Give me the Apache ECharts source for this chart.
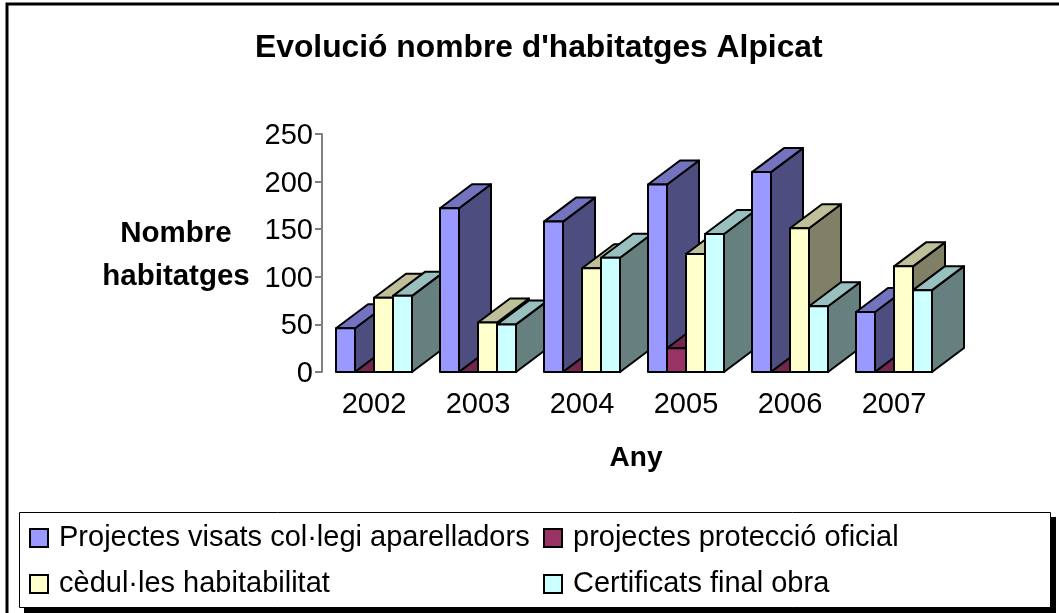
<!DOCTYPE html>
<html><head><meta charset="utf-8">
<style>html,body{margin:0;padding:0;background:#fff}#c{width:1059px;height:613px}</style>
<script src="https://cdn.jsdelivr.net/npm/echarts@6/dist/echarts.min.js"></script>
</head><body><div id="c"></div>
<script>
const years = ['2002','2003','2004','2005','2006','2007'];
const seriesNames = ['Projectes visats col·legi aparelladors','projectes protecció oficial','cèdul·les habitabilitat','Certificats final obra'];
const visats = [46,172,158,197,210,63];
const proteccio = [0,0,0,25,0,0];
const cedules = [78,52,109,124,151,111];
const certificats = [80,50,120,145,69,86];
const frontColors = ['#9999FF','#993366','#FFFFCC','#CCFFFF'];
const topColors = ['#7373BF','#73264D','#BFBF99','#99BFBF'];
const sideColors = ['#4D4D80','#4D1933','#808066','#668080'];
const seriesValues = [visats,proteccio,cedules,certificats];
const FONT = '"Liberation Sans", Arial, sans-serif';
const depthX = 32, depthY = -24, barShare = 19/104;

function makeRender(si){
  return function(params, api){
    const cat = api.value(0), val = api.value(1);
    const base = api.coord([cat,0]), top = api.coord([cat,val]);
    const w = api.size([1,0])[0]*barShare;
    const x0 = base[0] + (si-2)*w, x1 = x0+w, yb = base[1], yt = top[1];
    const z2 = cat*4+si;
    const st = c => ({fill:c, stroke:'#000', lineWidth:2, lineJoin:'round'});
    const poly = (pts,c) => ({type:'polygon', z2, shape:{points:pts}, style:st(c)});
    return {type:'group', children:[
      poly([[x1,yb],[x1+depthX,yb+depthY],[x1+depthX,yt+depthY],[x1,yt]], sideColors[si]),
      poly([[x0,yt],[x1,yt],[x1+depthX,yt+depthY],[x0+depthX,yt+depthY]], topColors[si]),
      poly([[x0,yb],[x1,yb],[x1,yt],[x0,yt]], frontColors[si])
    ]};
  };
}
const legendBase = {orient:'vertical', itemWidth:18, itemHeight:18, itemGap:14,
  icon:'rect', padding:0, selectedMode:false,
  itemStyle:{borderColor:'#000', borderWidth:2},
  textStyle:{fontFamily:FONT, fontSize:29, color:'#000', padding:[0,0,0,6], lineHeight:32}};
const chart = echarts.init(document.getElementById('c'));
chart.setOption({
  animation:false,
  backgroundColor:'#fff',
  title:{text:"Evolució nombre d'habitatges Alpicat", left:255, top:32, padding:0,
    textStyle:{fontFamily:FONT, fontSize:31.8, fontWeight:'bold', color:'#000'}},
  graphic:[
    {type:'rect', z:-3, shape:{x:7,y:4,width:1200,height:800}, style:{fill:'#fff', stroke:'#000', lineWidth:3}},
    {type:'rect', z:-2, shape:{x:24,y:517,width:1032,height:96}, style:{fill:'#000'}},
    {type:'rect', z:-1, shape:{x:19.5,y:512.5,width:1031,height:95}, style:{fill:'#fff', stroke:'#000', lineWidth:1}}
  ],
  legend:[
    Object.assign({}, legendBase, {left:29, top:522, data:[seriesNames[0],seriesNames[2]]}),
    Object.assign({}, legendBase, {left:543, top:522, data:[seriesNames[1],seriesNames[3]]})
  ],
  grid:{left:322, top:134, width:624, height:238, containLabel:false},
  xAxis:{type:'category', data:years, name:'Any', nameLocation:'middle', nameGap:72,
    nameTextStyle:{fontFamily:FONT, fontSize:28, fontWeight:'bold', color:'#000', padding:[0,0,0,4]},
    axisLine:{show:false}, axisTick:{show:false},
    axisLabel:{fontFamily:FONT, fontSize:29, color:'#000', margin:18}},
  yAxis:{type:'value', min:0, max:250, interval:50, name:'Nombre\nhabitatges', nameLocation:'middle',
    nameRotate:0, nameGap:146, nameMoveOverlap:false,
    nameTextStyle:{fontFamily:FONT, fontSize:29.5, fontWeight:'bold', color:'#000', align:'center', verticalAlign:'top', lineHeight:43, padding:[-41,0,0,0]},
    axisLine:{show:true, lineStyle:{color:'#808080', width:2}},
    axisTick:{show:true, length:7, lineStyle:{color:'#808080', width:2}},
    axisLabel:{fontFamily:FONT, fontSize:29, color:'#000', margin:9, verticalAlign:'top', lineHeight:34, padding:[-15,0,0,0]},
    splitLine:{show:false}},
  series:seriesNames.map((name,si)=>({
    name, type:'custom', coordinateSystem:'cartesian2d', clip:false,
    renderItem:makeRender(si), itemStyle:{color:frontColors[si]},
    encode:{x:0,y:1},
    data:seriesValues[si].map((v,i)=>[i,v])
  }))
});
</script></body></html>
